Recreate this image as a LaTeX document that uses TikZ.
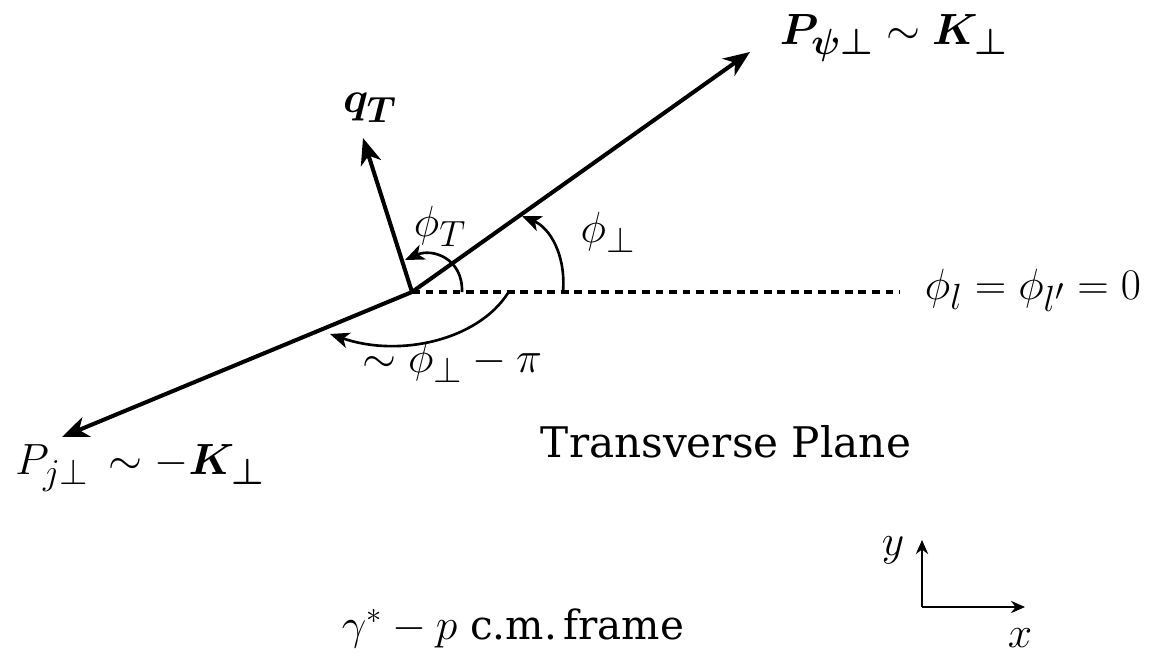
\documentclass[tikz,border=0pt]{standalone}
\usepackage{amsmath}
\usepackage{fontspec}
\newfontfamily\slab{DejaVu Serif}
\usetikzlibrary{arrows.meta}
\tikzset{
  vec/.style={line width=2.3pt,-{Stealth[length=15pt,width=12pt,inset=4.5pt]}},
  angarc/.style={line width=1.5pt,-{Stealth[length=11pt,width=9pt,inset=3pt]}},
  axis/.style={line width=1.1pt,-{Stealth[length=8pt,width=7pt]}},
  ref/.style={line width=1.8pt,dash pattern=on 4.5pt off 3.2pt},
  lbl/.style={inner sep=0pt,font=\fontsize{24.88}{29}\selectfont},
  big/.style={inner sep=0pt,font=\fontsize{24}{29}\selectfont\slab},
}
\begin{document}
\begin{tikzpicture}[x=0.02cm,y=-0.02cm]
\useasboundingbox (0,0) rectangle (1153,659);
\coordinate (O) at (412,292);
\coordinate (psi) at (750,52);
\coordinate (jet) at (62,437);
\coordinate (qt) at (363,138);
\coordinate (dashend) at (900,292);
% arc end points
\coordinate (aT0) at (462,292);
\coordinate (aT1) at (405,260);
\coordinate (aP0) at (563,292);
\coordinate (aP1) at (522,216);
\coordinate (aJ0) at (508,293);
\coordinate (aJ1) at (330,334);
% axes
\coordinate (ax0) at (922,607);
\coordinate (axY) at (922,540);
\coordinate (axX) at (1025,607);

\draw[ref] (O) -- (dashend);
\draw[vec] (O) -- (psi);
\draw[vec] (O) -- (jet);
\draw[vec] (O) -- (qt);

\draw[angarc] (aT0) .. controls (463,258) and (432,248) .. (aT1);
\draw[angarc] (aP0) .. controls (566,255) and (550,228) .. (aP1);
\draw[angarc] (aJ0) .. controls (478,340) and (400,358) .. (aJ1);

\draw[axis] (ax0) -- (axY);
\draw[axis] (ax0) -- (axX);

\node[lbl] (lpsi) at (894,38) {$\boldsymbol{P_{\psi\perp}}\sim\boldsymbol{K_{\perp}}$};
\node[lbl] (lqt) at (370,108) {$\boldsymbol{q_T}$};
\node[lbl] (lphT) at (440,226) {$\phi_T$};
\node[lbl] (lphP) at (608,232) {$\phi_\perp$};
\node[lbl] (lref) at (1033,290) {$\phi_l=\phi_{l'}=0$};
\node[lbl] (lpi) at (452,362) {$\sim\phi_\perp-\pi$};
\node[lbl] (ljet) at (140,468) {$P_{j\perp}\,\sim-\boldsymbol{K_{\perp}}$};
\node[big] (ltp) at (726,442) {Transverse Plane};
\node[big,font=\fontsize{23}{28}\selectfont\slab] (lfr) at (513,628) {$\gamma^*-p$ c.m.\,frame};
\node[lbl] (ly) at (893,550) {$y$};
\node[lbl] (lx) at (1020,638) {$x$};
\end{tikzpicture}
\end{document}
